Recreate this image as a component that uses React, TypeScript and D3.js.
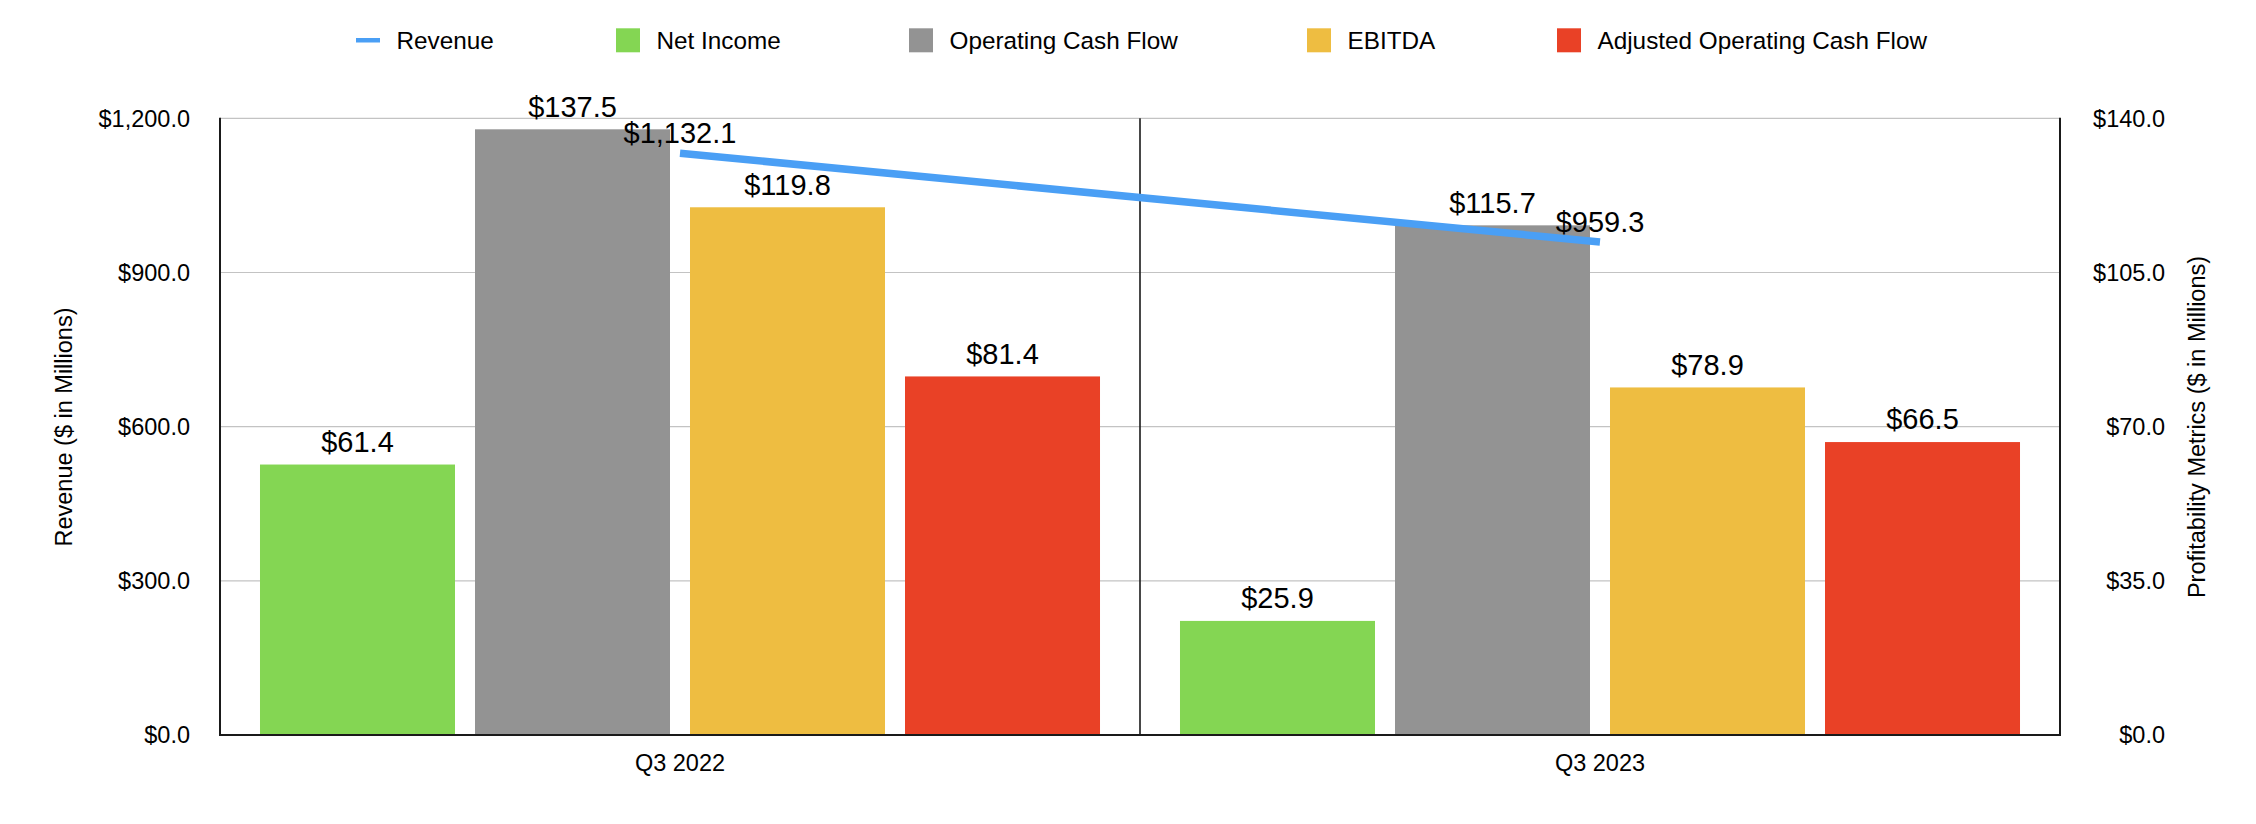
import React from "react";
import * as d3 from "d3";

const categories = ["Q3 2022", "Q3 2023"];
const revenue = [1132.1, 959.3];
const netIncome = [61.4, 25.9];
const operatingCashFlow = [137.5, 115.7];
const ebitda = [119.8, 78.9];
const adjustedOperatingCashFlow = [81.4, 66.5];
const leftTicks = [0, 300, 600, 900, 1200];
const rightTicks = [0, 35, 70, 105, 140];

const barSeries = [
  { name: "Net Income", values: netIncome, color: "#84d653" },
  { name: "Operating Cash Flow", values: operatingCashFlow, color: "#939393" },
  { name: "EBITDA", values: ebitda, color: "#eebd41" },
  { name: "Adjusted Operating Cash Flow", values: adjustedOperatingCashFlow, color: "#e94126" },
];
const lineColor = "#4a9ff5";

const W = 2256;
const H = 824;
const M = { left: 220, right: 2060, top: 118.3, bottom: 735 };
const FONT = "'Liberation Sans', Arial, Helvetica, sans-serif";
const fmt = (v: number) => "$" + d3.format(",.1f")(v);

// legend layout (x of marker left edge)
const legendX = [356, 616, 909, 1307, 1557];

export default function App() {
  const x = d3.scaleBand<string>().domain(categories).range([M.left, M.right]).padding(0);
  const xi = d3
    .scaleBand<string>()
    .domain(barSeries.map((s) => s.name))
    .range([0, x.bandwidth()])
    .paddingInner(0.093)
    .paddingOuter(0.186);
  const yL = d3.scaleLinear().domain([0, 1200]).range([M.bottom, M.top]);
  const yR = d3.scaleLinear().domain([0, 140]).range([M.bottom, M.top]);

  const line = d3
    .line<number>()
    .x((_, i) => (x(categories[i]) as number) + x.bandwidth() / 2)
    .y((d) => yL(d));

  const legendItems = [
    { name: "Revenue", color: lineColor, type: "line" },
    ...barSeries.map((s) => ({ name: s.name, color: s.color, type: "rect" })),
  ];

  return (
    <svg
      width={W}
      height={H}
      style={{ position: "absolute", left: 0, top: 0, background: "#fff" }}
      fontFamily={FONT}
    >
      <rect x={0} y={0} width={W} height={H} fill="#fff" />
      {/* legend */}
      {legendItems.map((it, i) => (
        <g key={it.name}>
          {it.type === "line" ? (
            <rect x={legendX[i]} y={38} width={24} height={4.5} fill={it.color} />
          ) : (
            <rect x={legendX[i]} y={28.3} width={24} height={24} fill={it.color} />
          )}
          <text x={legendX[i] + 40.5} y={49.3} fontSize={24.3} fill="#000">
            {it.name}
          </text>
        </g>
      ))}

      {/* gridlines */}
      {leftTicks.map((t) => (
        <line key={"g" + t} x1={M.left} x2={M.right} y1={yL(t)} y2={yL(t)} stroke="#c3c3c3" strokeWidth={1.2} />
      ))}

      {/* bars */}
      {barSeries.map((s) =>
        categories.map((c, i) => (
          <rect
            key={s.name + c}
            x={(x(c) as number) + (xi(s.name) as number)}
            y={yR(s.values[i])}
            width={xi.bandwidth()}
            height={M.bottom - yR(s.values[i])}
            fill={s.color}
          />
        ))
      )}

      {/* axes lines */}
      <line x1={M.left} x2={M.left} y1={M.top - 0.5} y2={M.bottom + 1} stroke="#1a1a1a" strokeWidth={2} />
      <line x1={M.right} x2={M.right} y1={M.top - 0.5} y2={M.bottom + 1} stroke="#1a1a1a" strokeWidth={2} />
      <line x1={x(categories[1]) as number} x2={x(categories[1]) as number} y1={M.top} y2={M.bottom} stroke="#1a1a1a" strokeWidth={1.6} />
      <line x1={M.left - 1} x2={M.right + 1} y1={M.bottom} y2={M.bottom} stroke="#1a1a1a" strokeWidth={2.2} />

      {/* revenue line */}
      <path d={line(revenue) || ""} fill="none" stroke={lineColor} strokeWidth={7.5} />

      {/* bar value labels */}
      {barSeries.map((s) =>
        categories.map((c, i) => (
          <text
            key={"l" + s.name + c}
            x={(x(c) as number) + (xi(s.name) as number) + xi.bandwidth() / 2}
            y={yR(s.values[i]) - 12.6}
            textAnchor="middle"
            fontSize={29}
            fill="#000"
          >
            {fmt(s.values[i])}
          </text>
        ))
      )}

      {/* revenue labels */}
      {categories.map((c, i) => (
        <text
          key={"r" + c}
          x={(x(c) as number) + x.bandwidth() / 2}
          y={yL(revenue[i]) - 10}
          textAnchor="middle"
          fontSize={29}
          fill="#000"
        >
          {fmt(revenue[i])}
        </text>
      ))}

      {/* left ticks */}
      {leftTicks.map((t) => (
        <text key={"lt" + t} x={190} y={yL(t)} dy="0.36em" textAnchor="end" fontSize={23.5} fill="#000">
          {fmt(t)}
        </text>
      ))}
      {/* right ticks */}
      {rightTicks.map((t) => (
        <text key={"rt" + t} x={2165} y={yR(t)} dy="0.36em" textAnchor="end" fontSize={23.5} fill="#000">
          {fmt(t)}
        </text>
      ))}

      {/* x labels */}
      {categories.map((c) => (
        <text key={"x" + c} x={(x(c) as number) + x.bandwidth() / 2} y={771} textAnchor="middle" fontSize={23.5} fill="#000">
          {c}
        </text>
      ))}

      {/* axis titles */}
      <text
        transform={`translate(64,427) rotate(-90)`}
        textAnchor="middle"
        dy="0.35em"
        fontSize={23.5}
        fill="#000"
      >
        Revenue ($ in Millions)
      </text>
      <text
        transform={`translate(2197,427) rotate(-90)`}
        textAnchor="middle"
        dy="0.35em"
        fontSize={23.5}
        fill="#000"
      >
        Profitability Metrics ($ in Millions)
      </text>
    </svg>
  );
}
